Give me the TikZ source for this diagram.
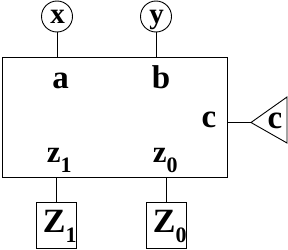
\documentclass[tikz,border=0pt]{standalone}
\usepackage{fontspec}
\setmainfont{Liberation Serif}
\newcommand{\subd}[1]{\raisebox{-10pt}{\fontsize{22}{22}\selectfont #1}}
\begin{document}
\begin{tikzpicture}[x=1pt,y=-1pt,line width=0.9pt,
  every node/.style={font=\bfseries, inner sep=0pt},
  circ/.style={draw, circle, minimum size=31pt, font=\fontsize{29}{29}\selectfont\bfseries},
  lbl/.style={anchor=base, font=\fontsize{33}{33}\selectfont\bfseries},
  zlbl/.style={anchor=base west, font=\fontsize{31}{31}\selectfont\bfseries},
  outbox/.style={draw, minimum width=40pt, minimum height=46pt},
  ztxt/.style={anchor=base west, font=\fontsize{34}{34}\selectfont\bfseries}]
\useasboundingbox (0,0) rectangle (288,249);
\node[draw, minimum width=225pt, minimum height=120pt] (box) at (114.5,117) {};
\node[circ] (x) at (57,16.5) {};
\node[circ] (y) at (156,16.5) {};
\node[font=\fontsize{29}{29}\selectfont\bfseries, anchor=base] (xl) at (57.5,23) {x};
\node[font=\fontsize{29}{29}\selectfont\bfseries, anchor=base] (yl) at (156.5,23) {y};
\node[lbl] (a) at (60.5,88) {a};
\node[lbl] (b) at (161,88) {b};
\node[lbl] (c) at (209,127.5) {c};
\node[zlbl] (z1) at (46.5,162) {z\subd{1}};
\node[zlbl] (z0) at (152.5,162) {z\subd{0}};
\node[outbox] (Z1) at (56,225) {};
\node[outbox] (Z0) at (166.5,225) {};
\node[ztxt] (Z1t) at (42.5,232) {Z\subd{1}};
\node[ztxt] (Z0t) at (152.5,232) {Z\subd{0}};
\coordinate (tip) at (251,122.5);
\coordinate (tt) at (287,97);
\coordinate (tb) at (287,143);
\draw (tip) -- (tt) -- (tb) -- cycle;
\node[lbl] (c2) at (275,128) {c};
\draw (x.south) -- (x.south |- box.north);
\draw (y.south) -- (y.south |- box.north);
\draw (box.east |- tip) -- (tip);
\draw (Z1.north) -- (Z1.north |- box.south);
\draw (Z0.north) -- (Z0.north |- box.south);
\end{tikzpicture}
\end{document}
